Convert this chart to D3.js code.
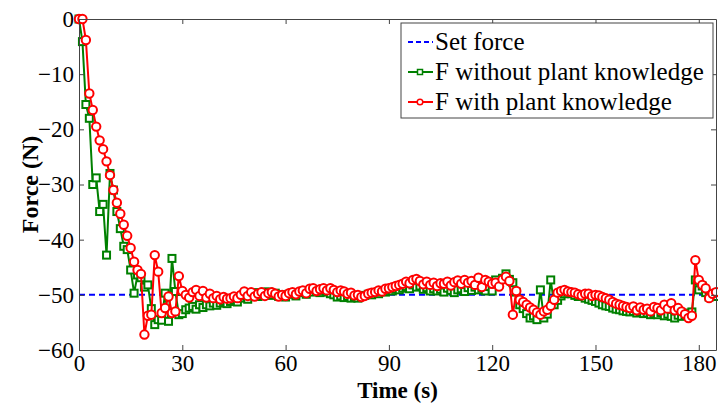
<!DOCTYPE html>
<html>
<head>
<meta charset="utf-8">
<script src="https://cdn.jsdelivr.net/npm/d3@7"></script>
<style>
  body { margin: 0; background: #fff; }
</style>
</head>
<body>
<div id="chart"></div>
<script>
const width = 718;
const height = 403;

// sampled every second, 0..185 s
const setForce = -50;
const xTicks = [0, 30, 60, 90, 120, 150, 180];
const yTicks = [0, -10, -20, -30, -40, -50, -60];

// F without plant knowledge (green)
const forceWithout = [
  0, -4.1, -15.5, -18, -30, -28.8, -34.9, -33.6, -42.8, -28,
  -31, -34.9, -38, -41.2, -41.8, -45.5, -49.7, -46.4, -46.9, -48.6,
  -48.2, -52.5, -55.4, -54.5, -54.6, -49.7, -54.8, -43.4, -49.4, -53.6,
  -53.4, -52.7, -52.4, -52.1, -52.6, -51.8, -52.3, -51.8, -52.0, -51.5,
  -51.9, -51.5, -51.2, -51.6, -51.2, -50.9, -51.3, -50.6, -50.2, -50.8,
  -50.0, -49.6, -50.3, -49.9, -49.5, -49.5, -50.1, -49.7, -50.3, -50.0,
  -50.4, -49.9, -49.7, -50.2, -49.6, -49.4, -49.9, -49.2, -49.5, -49.3,
  -49.6, -49.2, -49.5, -49.8, -50.0, -50.4, -50.2, -50.5, -50.3, -50.6,
  -50.4, -50.6, -50.3, -50.1, -49.9, -50.0, -49.6, -49.8, -49.4, -49.5,
  -49.2, -49.3, -49.0, -49.1, -48.8, -48.5, -48.9, -48.2, -48.6, -48.4,
  -49.0, -48.7, -49.3, -48.9, -49.3, -49.0, -49.5, -48.8, -49.2, -49.6,
  -49.1, -48.9, -49.4, -48.7, -49.2, -48.6, -49.1, -48.8, -49.3, -48.5,
  -49.3, -47.3, -47.9, -47.0, -46.2, -47.2, -47.8, -49.5, -51.8, -52.5,
  -53.4, -54.2, -53.8, -54.5, -49.1, -54.2, -53.5, -47.3, -51.8, -51.0,
  -50.2, -49.8, -49.5, -49.8, -50.1, -50.3, -50.2, -50.6, -50.8, -51.0,
  -51.2, -51.5, -51.8, -52.0, -52.1, -52.4, -52.6, -52.7, -52.9, -53.0,
  -53.1, -53.0, -53.3, -53.2, -53.4, -53.3, -53.6, -53.4, -53.6, -53.2,
  -53.8, -53.5, -53.9, -54.2, -53.7, -53.9, -53.6, -53.3, -53.1, -47.3,
  -49.1, -48.4, -49.6, -50.4, -50.1, -50.3
];

// F with plant knowledge (red)
const forceWith = [
  0, 0, -3.8, -13.5, -16.5, -19.5, -22, -23.6, -25.8, -28.3,
  -31, -33.3, -35.3, -37.3, -39.3, -41.5, -44, -45.5, -46.2, -57.2,
  -53.8, -53.6, -42.8, -45.8, -53.3, -52.4, -50.3, -53.3, -53, -46.6,
  -49.3, -50, -50.5, -49.5, -49.1, -50.2, -49.3, -50.5, -49.8, -50.6,
  -50.2, -50.8, -50.4, -50.7, -50.6, -50.3, -50.6, -50.0, -49.4, -50.2,
  -49.5, -50.3, -49.8, -49.5, -50.2, -49.7, -49.5, -49.8, -50.3, -50.0,
  -50.2, -49.7, -49.5, -49.9, -49.4, -49.2, -49.7, -48.9, -48.8, -49.3,
  -49.0, -48.8, -49.2, -48.8, -49.1, -49.5, -49.2, -49.4, -49.8, -49.6,
  -50.1, -50.0, -50.4, -50.2, -49.8, -49.6, -49.5, -49.2, -49.4, -48.9,
  -48.8, -48.6, -48.4, -48.2, -48.0, -47.6, -47.9, -47.3, -47.1, -47.5,
  -48.1, -47.6, -48.2, -47.8, -48.4, -47.9, -48.0, -47.6, -48.3, -47.7,
  -47.4, -48.0, -47.3, -47.8, -47.5, -48.2, -46.9, -48.6, -47.3, -47.6,
  -48.0, -47.8, -48.5, -47.2, -46.7, -47.5, -53.6, -49.3, -50.9, -51.3,
  -51.8, -52.3, -52.7, -53.2, -53.6, -53.0, -52.7, -52.0, -50.9, -49.6,
  -49.3, -49.1, -49.4, -49.5, -49.6, -49.9, -50.1, -49.8, -49.8, -50.2,
  -50.0, -50.1, -50.4, -50.6, -50.9, -51.3, -51.6, -51.8, -52.0, -52.2,
  -52.4, -52.1, -52.8, -52.3, -52.7, -52.5, -53.0, -52.2, -52.4, -52.8,
  -51.8, -52.5, -51.5, -52.8, -52.4, -53.0, -53.5, -54.2, -53.8, -43.7,
  -47.3, -48.2, -48.8, -50.6, -49.8, -49.5
];

const time = d3.range(forceWith.length);

const margin = { top: 19, right: 2, bottom: 53, left: 79 };
const serif = "Liberation Serif";

const svg = d3.select("#chart")
    .append("svg")
    .attr("width", width)
    .attr("height", height)
    .style("display", "block");

const x = d3.scaleLinear().domain([0, 185]).range([margin.left, width - margin.right]);
const y = d3.scaleLinear().domain([-60, 0]).range([height - margin.bottom, margin.top]);

const axisColor = "#444";

// set force line
svg.append("line")
    .attr("x1", x(0)).attr("x2", x(185))
    .attr("y1", y(setForce)).attr("y2", y(setForce))
    .attr("stroke", "#0000ff")
    .attr("stroke-width", 2)
    .attr("stroke-dasharray", "6,4");

const line = d3.line()
    .x((d, i) => x(time[i]))
    .y(d => y(d));

// green series with squares
svg.append("path")
    .datum(forceWithout)
    .attr("fill", "none")
    .attr("stroke", "#008000")
    .attr("stroke-width", 2)
    .attr("d", line);

svg.append("g")
    .selectAll("rect")
    .data(forceWithout)
    .join("rect")
    .attr("x", (d, i) => x(time[i]) - 3.5)
    .attr("y", d => y(d) - 3.5)
    .attr("width", 7)
    .attr("height", 7)
    .attr("fill", "#fff")
    .attr("stroke", "#008000")
    .attr("stroke-width", 2);

// red series with circles
svg.append("path")
    .datum(forceWith)
    .attr("fill", "none")
    .attr("stroke", "#ff0000")
    .attr("stroke-width", 2)
    .attr("d", line);

svg.append("g")
    .selectAll("circle")
    .data(forceWith)
    .join("circle")
    .attr("cx", (d, i) => x(time[i]))
    .attr("cy", d => y(d))
    .attr("r", 4.2)
    .attr("fill", "#fff")
    .attr("stroke", "#ff0000")
    .attr("stroke-width", 2);

// axes (ticks pointing inward, box all around)
const axBottom = svg.append("g")
    .attr("transform", `translate(0,${y(-60)})`)
    .call(d3.axisBottom(x).tickValues(xTicks).tickSizeInner(-5).tickSizeOuter(0).tickPadding(5));

const axLeft = svg.append("g")
    .attr("transform", `translate(${x(0)},0)`)
    .call(d3.axisLeft(y).tickValues(yTicks).tickSizeInner(-5).tickSizeOuter(0).tickPadding(5));

const axTop = svg.append("g")
    .attr("transform", `translate(0,${y(0)})`)
    .call(d3.axisTop(x).tickValues(xTicks).tickSizeInner(-5).tickSizeOuter(0).tickFormat(""));

const axRight = svg.append("g")
    .attr("transform", `translate(${x(185)},0)`)
    .call(d3.axisRight(y).tickValues(yTicks).tickSizeInner(-5).tickSizeOuter(0).tickFormat(""));

[axBottom, axLeft, axTop, axRight].forEach(a => {
    a.attr("font-family", serif).attr("font-size", 23);
    a.select(".domain").attr("stroke", axisColor);
    a.selectAll(".tick line").attr("stroke", axisColor);
    a.selectAll("text").attr("fill", "#000");
});

// axis titles
svg.append("text")
    .attr("x", (x(0) + x(185)) / 2)
    .attr("y", 397.5)
    .attr("text-anchor", "middle")
    .attr("font-family", serif)
    .attr("font-size", 23)
    .attr("font-weight", "bold")
    .text("Time (s)");

svg.append("text")
    .attr("transform", `translate(38,${(y(0) + y(-60)) / 2}) rotate(-90)`)
    .attr("text-anchor", "middle")
    .attr("font-family", serif)
    .attr("font-size", 24)
    .attr("font-weight", "bold")
    .text("Force (N)");

// legend
const legendItems = [
    { name: "Set force", color: "#0000ff", type: "dash" },
    { name: "F without plant knowledge", color: "#008000", type: "square" },
    { name: "F with plant knowledge", color: "#ff0000", type: "circle" }
];

const legend = svg.append("g");
legend.append("rect")
    .attr("x", 401).attr("y", 23)
    .attr("width", 312).attr("height", 95)
    .attr("fill", "#fff")
    .attr("stroke", axisColor)
    .attr("stroke-width", 1);

legendItems.forEach((d, i) => {
    const cy = 42 + i * 30;
    const row = legend.append("g");
    row.append("line")
        .attr("x1", 408).attr("x2", 433)
        .attr("y1", cy).attr("y2", cy)
        .attr("stroke", d.color)
        .attr("stroke-width", 2)
        .attr("stroke-dasharray", d.type === "dash" ? "5,3" : null);
    if (d.type === "square") {
        row.append("rect")
            .attr("x", 417.5).attr("y", cy - 2.5)
            .attr("width", 5).attr("height", 5)
            .attr("fill", "#fff")
            .attr("stroke", d.color)
            .attr("stroke-width", 1.5);
    } else if (d.type === "circle") {
        row.append("circle")
            .attr("cx", 420).attr("cy", cy)
            .attr("r", 2.8)
            .attr("fill", "#fff")
            .attr("stroke", d.color)
            .attr("stroke-width", 1.5);
    }
    row.append("text")
        .attr("x", 435)
        .attr("y", cy + 8)
        .attr("font-family", serif)
        .attr("font-size", 25)
        .text(d.name);
});
</script>
</body>
</html>
